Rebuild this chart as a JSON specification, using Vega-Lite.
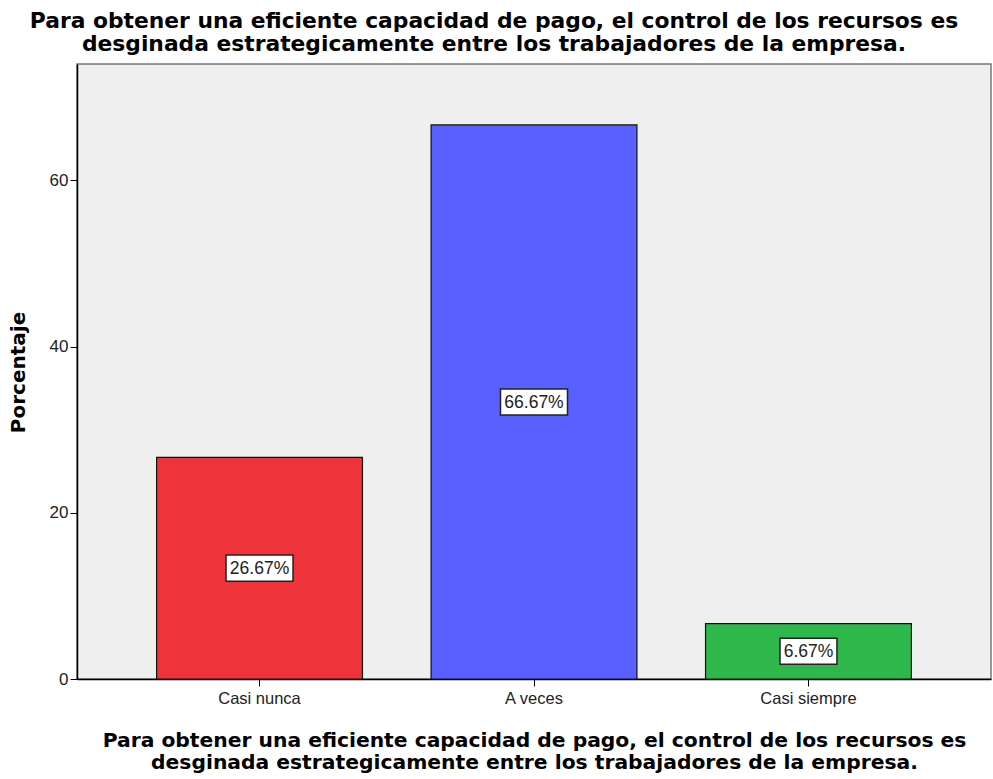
{
  "$schema": "https://vega.github.io/schema/vega-lite/v6.json",
  "autosize": {"type": "none"},
  "width": 914,
  "height": 615,
  "padding": {"left": 77, "top": 64, "right": 2, "bottom": 100},
  "background": "white",
  "title": {
    "text": ["Para obtener una eficiente capacidad de pago, el control de los recursos es", "desginada estrategicamente entre los trabajadores de la empresa."],
    "font": "DejaVu Sans",
    "fontWeight": "bold",
    "fontSize": 21.8,
    "lineHeight": 23,
    "color": "black",
    "anchor": "middle",
    "dx": -40,
    "offset": 8
  },
  "config": {
    "view": {"fill": "#EFEFEF", "stroke": "#777777", "strokeWidth": 1.5}
  },
  "data": {
    "values": [
      {"cat": "Casi nunca", "pct": 26.67, "label": "26.67%"},
      {"cat": "A veces", "pct": 66.67, "label": "66.67%"},
      {"cat": "Casi siempre", "pct": 6.67, "label": "6.67%"}
    ]
  },
  "transform": [{"calculate": "datum.pct / 2", "as": "mid"}],
  "encoding": {
    "x": {
      "field": "cat",
      "type": "nominal",
      "sort": ["Casi nunca", "A veces", "Casi siempre"],
      "scale": {"paddingInner": 0.25, "paddingOuter": 0.29},
      "axis": {
        "title": ["Para obtener una eficiente capacidad de pago, el control de los recursos es", "desginada estrategicamente entre los trabajadores de la empresa."],
        "titleFont": "DejaVu Sans",
        "titleFontWeight": "bold",
        "titleFontSize": 20.3,
        "titleLineHeight": 22,
        "titleColor": "black",
        "titleBaseline": "alphabetic",
        "titleY": 67,
        "labelAngle": 0,
        "labelFont": "Liberation Sans",
        "labelFontSize": 16.5,
        "labelColor": "#222222",
        "labelPadding": 4,
        "tickColor": "black",
        "tickSize": 7,
        "domainColor": "black",
        "domainWidth": 1.5
      }
    }
  },
  "layer": [
    {
      "mark": {"type": "bar", "stroke": "#111111", "strokeWidth": 1.2},
      "encoding": {
        "y": {
          "field": "pct",
          "type": "quantitative",
          "scale": {"domain": [0, 74], "nice": false},
          "axis": {
            "title": "Porcentaje",
            "titleFont": "DejaVu Sans",
            "titleFontWeight": "bold",
            "titleFontSize": 20,
            "titleColor": "black",
            "titleX": -59,
            "titleY": 308,
            "titleBaseline": "middle",
            "titleAlign": "center",
            "values": [0, 20, 40, 60],
            "grid": false,
            "labelFont": "Liberation Sans",
            "labelFontSize": 17,
            "labelColor": "#222222",
            "labelPadding": 2,
            "tickColor": "black",
            "tickSize": 7,
            "domainColor": "black",
            "domainWidth": 1.5
          }
        },
        "color": {
          "field": "cat",
          "type": "nominal",
          "scale": {"domain": ["Casi nunca", "A veces", "Casi siempre"], "range": ["#EF333A", "#5A5FFF", "#2EB84B"]},
          "legend": null
        }
      }
    },
    {
      "mark": {"type": "point", "filled": true, "fill": "white", "opacity": 1, "stroke": "#222222", "strokeWidth": 1.5, "size": 4489},
      "encoding": {
        "y": {"field": "mid", "type": "quantitative"},
        "shape": {
          "condition": {"test": "datum.pct < 10", "value": "M-0.85,-0.39H0.85V0.39H-0.85Z"},
          "value": "M-1,-0.39H1V0.39H-1Z"
        }
      }
    },
    {
      "mark": {"type": "text", "font": "Liberation Sans", "fontSize": 17.5, "color": "#222222", "baseline": "middle", "dy": 1},
      "encoding": {
        "y": {"field": "mid", "type": "quantitative"},
        "text": {"field": "label"}
      }
    }
  ]
}
